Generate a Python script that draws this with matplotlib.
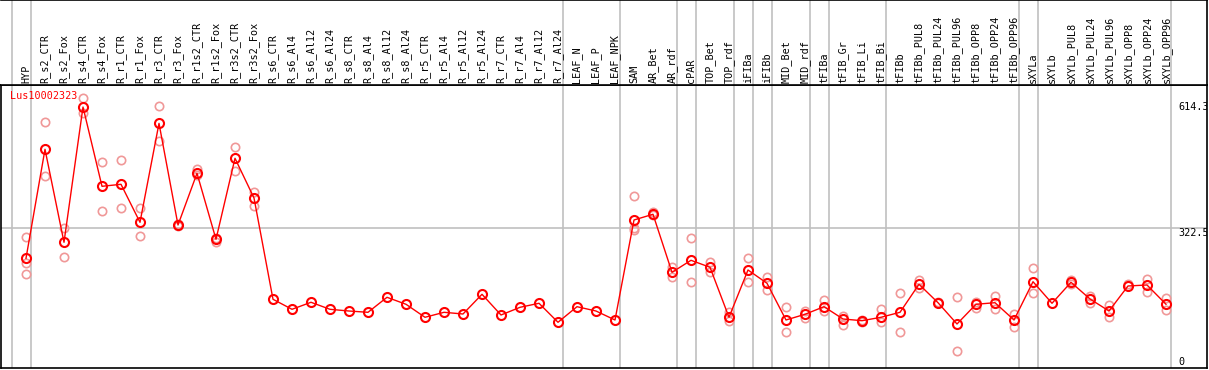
import numpy as np
import matplotlib
matplotlib.use('Agg')
from matplotlib import pyplot as plt

# categories along the top
labels = ['HYP', 'R_s2_CTR', 'R_s2_Fox', 'R_s4_CTR', 'R_s4_Fox', 'R_r1_CTR', 'R_r1_Fox',
          'R_r3_CTR', 'R_r3_Fox', 'R_r1s2_CTR', 'R_r1s2_Fox', 'R_r3s2_CTR', 'R_r3s2_Fox',
          'R_s6_CTR', 'R_s6_Al4', 'R_s6_Al12', 'R_s6_Al24', 'R_s8_CTR', 'R_s8_Al4',
          'R_s8_Al12', 'R_s8_Al24', 'R_r5_CTR', 'R_r5_Al4', 'R_r5_Al12', 'R_r5_Al24',
          'R_r7_CTR', 'R_r7_Al4', 'R_r7_Al12', 'R_r7_Al24', 'LEAF_N', 'LEAF_P', 'LEAF_NPK',
          'SAM', 'AR_Bet', 'AR_rdf', 'cPAR', 'TOP_Bet', 'TOP_rdf', 'iFIBa', 'iFIBb',
          'MID_Bet', 'MID_rdf', 'tFIBa', 'tFIB_Gr', 'tFIB_Li', 'tFIB_Bi', 'tFIBb',
          'tFIBb_PUL8', 'tFIBb_PUL24', 'tFIBb_PUL96', 'tFIBb_OPP8', 'tFIBb_OPP24',
          'tFIBb_OPP96', 'sXYLa', 'sXYLb', 'sXYLb_PUL8', 'sXYLb_PUL24', 'sXYLb_PUL96',
          'sXYLb_OPP8', 'sXYLb_OPP24', 'sXYLb_OPP96']

# mean expression per sample
means = [250.4, 512.6, 288.9, 614.3, 423.6, 428.4, 337.0, 575.0, 330.5, 454.9, 296.1,
         491.0, 395.5, 151.8, 127.7, 144.6, 127.7, 123.6, 120.5, 156.6, 139.8, 108.5,
         120.5, 116.4, 163.8, 114.0, 132.5, 142.2, 96.5, 134.0, 123.6, 102.0,
         342.6, 356.3, 216.7, 245.6, 228.8, 108.5, 222.3, 190.3, 102.0, 115.7,
         134.0, 104.4, 100.3, 108.5, 120.5, 187.9, 143.6, 92.4, 139.8, 143.6, 102.0,
         194.1, 142.2, 192.7, 152.5, 123.6, 183.8, 186.2, 139.8]

# replicate values (empty = not visible)
reps = [[300.9, 239.9, 211.9], [577.5, 449.2], [324.0, 254.3], [635.3, 599.2],
        [481.3, 365.0], [486.2, 370.7], [372.3, 304.0], [616.8, 533.3], [332.0, 327.0],
        [464.5, 450.8], [300.0, 289.6], [517.4, 461.2], [410.6, 377.0],
        [], [], [], [], [], [], [], [], [], [], [], [], [], [], [], [], [], [], [],
        [400.3, 324.0, 318.5], [362.5, 354.6], [230.2, 206.2], [298.5, 192.7],
        [242.2, 217.5], [120.5, 100.3], [250.4, 192.7], [204.7, 174.2],
        [132.5, 72.4], [124.4, 107.5], [150.1, 124.4], [112.3, 90.0], [102.0, 96.5],
        [128.5, 96.5], [166.2, 72.4], [198.2, 178.3], [146.0, 142.0], [156.6, 27.4],
        [146.0, 131.6], [159.7, 127.7], [116.4, 85.9], [226.4, 166.2], [],
        [198.2, 188.6], [159.7, 142.2], [138.0, 108.5], [188.6], [200.6, 170.0],
        [154.2, 126.0]]

# group separators come after these sample indices
sep_after = [-1, 0, 28, 31, 34, 35, 37, 38, 39, 41, 42, 45, 52, 53, 60]
yticks = [614.3, 322.5, 0]
ytick_labels = ['614.3', '322.5', '0']
gene = 'Lus10002323'

W, H = 1209, 370
mono = 'DejaVu Sans Mono'
fig = plt.figure(figsize=(W / 100, H / 100), dpi=100)

# pixel -> data mapping: x = 26 + 19*i
x_lo = (1 - 26) / 19.0
x_hi = (1207 - 26) / 19.0
ax = fig.add_axes([1 / W, (H - 368) / H, 1206 / W, 283 / H])
hdr = fig.add_axes([1 / W, (H - 85) / H, 1206 / W, 85 / H])

x = np.arange(len(labels))
ax.set_xlim(x_lo, x_hi)
ax.set_ylim(-13.5, 667.3)
hdr.set_xlim(x_lo, x_hi)
hdr.set_ylim(0, 85)

for a in (ax, hdr):
    a.set_xticks([])
    a.set_yticks([])
    for s in a.spines.values():
        s.set_color('black')
        s.set_linewidth(1.2)
hdr.spines['left'].set_visible(False)

for i in sep_after:
    ax.axvline(i + 0.24, color='#c0c0c0', lw=1.2, zorder=0)
    hdr.axvline(i + 0.24, color='#c0c0c0', lw=1.2, zorder=0)
ax.axhline(322.5, color='#c0c0c0', lw=1.2, zorder=0)

for i, lab in enumerate(labels):
    hdr.text(i, 2, lab, rotation=90, ha='center', va='bottom',
             family=mono, fontsize=7.3)

# replicates
rx, ry = [], []
for i, r in enumerate(reps):
    for v in r:
        rx.append(i)
        ry.append(v)
ax.plot(rx, ry, 'o', ms=6, mfc='none', mec='#f09898', mew=1.2, zorder=2)

ax.plot(x, means, '-', color='red', lw=1, zorder=3)
ax.plot(x, means, 'o', ms=6.5, mfc='none', mec='red', mew=1.5, zorder=4)

ax.text(-0.84, 640, gene, color='red', family=mono, fontsize=7.3, va='center', ha='left')

for v, t in zip(yticks, ytick_labels):
    yy = 312 if t == '322.5' else v
    ax.text(60.63, yy, t, family=mono, fontsize=7.3, va='center', ha='left', clip_on=True)

fig.savefig('out.png', dpi=100)
